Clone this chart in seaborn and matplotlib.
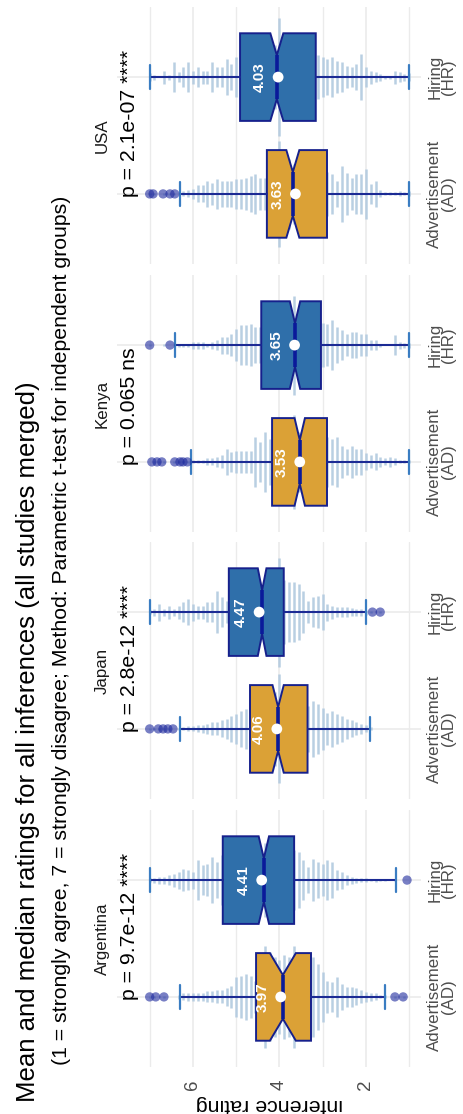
import numpy as np
import pandas as pd
import seaborn as sns
import matplotlib.pyplot as plt

# ---- data ----
countries = ["Argentina", "Japan", "Kenya", "USA"]
groups = ["Advertisement\n(AD)", "Hiring\n(HR)"]
p_labels = {"Argentina": "p = 9.7e-12 ****", "Japan": "p = 2.8e-12 ****",
            "Kenya": "p = 0.065 ns", "USA": "p = 2.1e-07 ****"}

# box statistics, [AD, HR]
q1 = {"Argentina": [3.27, 3.66], "Japan": [3.35, 3.90], "Kenya": [2.90, 3.04], "USA": [2.90, 3.16]}
med = {"Argentina": [3.92, 4.36], "Japan": [4.03, 4.40], "Kenya": [3.53, 3.64], "USA": [3.69, 4.06]}
q3 = {"Argentina": [4.54, 5.31], "Japan": [4.68, 5.17], "Kenya": [4.17, 4.42], "USA": [4.29, 4.91]}
whislo = {"Argentina": [1.56, 1.31], "Japan": [1.90, 2.00], "Kenya": [1.00, 1.00], "USA": [1.00, 1.00]}
whishi = {"Argentina": [6.30, 7.00], "Japan": [6.30, 7.00], "Kenya": [6.04, 6.42], "USA": [6.30, 7.00]}
cilo = {"Argentina": [3.62, 4.24], "Japan": [3.90, 4.30], "Kenya": [3.41, 3.52], "USA": [3.54, 3.91]}
cihi = {"Argentina": [4.22, 4.48], "Japan": [4.16, 4.50], "Kenya": [3.65, 3.76], "USA": [3.84, 4.21]}
means = {"Argentina": [3.97, 4.41], "Japan": [4.06, 4.47], "Kenya": [3.53, 3.65], "USA": [3.63, 4.03]}
fliers = {
    "Argentina": [[7.0, 6.86, 6.67, 1.33, 1.14], [1.05]],
    "Japan": [[7.0, 6.8, 6.69, 6.58, 6.46], [1.85, 1.67]],
    "Kenya": [[6.95, 6.83, 6.72, 6.42, 6.30, 6.23, 6.13], [7.0, 6.53]],
    "USA": [[7.0, 6.92, 6.69, 6.53, 6.42], []],
}

# dot strips: rating bins 1..7 in ninths, stack size per bin
levels = np.round(np.linspace(1, 7, 55), 3)
dot_counts = {
    "Argentina": [
        [0, 2, 0, 2, 0, 3, 3, 7, 8, 10, 13, 17, 20, 20, 27, 40, 30, 33, 50, 67,
         80, 75, 80, 85, 103, 80, 85, 75, 80, 90, 103, 80, 33, 43, 47, 43, 40, 23, 19, 13,
         13, 11, 11, 8, 8, 8, 8, 7, 4, 0, 0, 2, 0, 2, 2],
        [0, 0, 0, 2, 0, 2, 2, 3, 2, 4, 4, 5, 7, 10, 17, 20, 37, 40, 33, 37,
         43, 27, 40, 57, 60, 55, 70, 50, 65, 60, 75, 55, 70, 60, 65, 50, 60, 55, 45, 50,
         37, 47, 33, 30, 40, 17, 20, 23, 17, 13, 10, 7, 7, 5, 4],
    ],
    "Japan": [
        [0, 0, 0, 0, 0, 0, 0, 0, 3, 7, 10, 13, 17, 20, 27, 30, 37, 33, 43, 50,
         57, 47, 60, 70, 65, 75, 80, 110, 75, 70, 80, 65, 60, 45, 40, 37, 30, 27, 20, 17,
         13, 13, 10, 8, 7, 5, 5, 3, 2, 0, 2, 2, 2, 2, 2],
        [0, 0, 0, 0, 0, 0, 2, 0, 2, 5, 7, 7, 8, 10, 10, 10, 13, 17, 37, 33,
         30, 23, 43, 57, 60, 60, 65, 110, 60, 65, 70, 60, 65, 60, 70, 60, 65, 50, 23, 30,
         43, 20, 20, 13, 13, 17, 27, 20, 13, 7, 13, 7, 17, 7, 4],
    ],
    "Kenya": [
        [3, 3, 3, 7, 10, 7, 10, 17, 13, 17, 27, 27, 33, 27, 33, 50, 47, 50, 60, 65,
         60, 70, 65, 60, 95, 60, 65, 70, 60, 47, 60, 40, 50, 23, 23, 23, 23, 20, 27, 13,
         10, 7, 7, 3, 3, 3, 2, 2, 2, 2, 0, 2, 2, 2, 0],
        [5, 5, 7, 20, 0, 0, 3, 10, 10, 23, 23, 27, 27, 23, 30, 37, 50, 43, 45, 60,
         60, 65, 60, 70, 100, 65, 60, 70, 60, 65, 60, 37, 37, 43, 40, 40, 33, 23, 17, 17,
         10, 7, 3, 7, 7, 7, 3, 3, 3, 0, 0, 2, 0, 0, 2],
    ],
    "USA": [
        [5, 3, 5, 3, 3, 3, 7, 27, 20, 50, 40, 40, 33, 43, 57, 27, 40, 45, 60, 65,
         60, 70, 60, 65, 60, 70, 65, 107, 60, 65, 33, 33, 40, 37, 33, 30, 30, 27, 27, 27,
         30, 23, 27, 17, 17, 10, 7, 5, 0, 2, 2, 2, 0, 2, 2],
        [8, 7, 10, 13, 3, 3, 7, 10, 13, 20, 47, 27, 20, 23, 30, 33, 40, 37, 40, 45,
         60, 65, 60, 70, 60, 65, 60, 120, 65, 60, 70, 60, 65, 60, 65, 60, 40, 27, 37, 20,
         20, 30, 13, 13, 20, 13, 30, 20, 10, 30, 5, 13, 0, 5, 8],
    ],
}

title = "Mean and median ratings for all inferences (all studies merged)"
subtitle = "(1 = strongly agree, 7 = strongly disagree; Method: Parametric t-test for independent groups)"

# ---- style ----
sns.set_theme(style="whitegrid")
plt.rcParams['font.family'] = ['Liberation Sans', 'DejaVu Sans']

box_fill = ["#DBA136", "#2F6FAA"]
edge_col = "#16208C"
whisker_col = "#1B2A94"
cap_col = "#3A7DC2"
median_col = "#0A1A9A"
dot_col = "#B2CADF"
flier_col = "#1E2A9E"
grid_col = "#EBEBEB"
count_scale = 1 / 118

W, H = 464, 1114
fig = plt.figure(figsize=(W / 100, H / 100), dpi=100)
fig.patch.set_facecolor("white")

panel_top = {"USA": 7, "Kenya": 275, "Japan": 542, "Argentina": 810}
panel_h = 257
px_left, px_right = 117, 421

for country in countries:
    top = panel_top[country]
    ax = fig.add_axes([px_left / W, 1 - (top + panel_h) / H, (px_right - px_left) / W, panel_h / H])
    ax.set_facecolor("white")

    # dot strips
    for j in range(2):
        c = np.array(dot_counts[country][j], dtype=float)
        mask = c > 0
        half = c[mask] * count_scale / 2
        ax.vlines(levels[mask], j - half, j + half, colors=dot_col, linewidth=1.8,
                  alpha=0.9, zorder=1)

    stats = []
    for j in range(2):
        stats.append(dict(med=med[country][j], q1=q1[country][j], q3=q3[country][j],
                          whislo=whislo[country][j], whishi=whishi[country][j],
                          cilo=cilo[country][j], cihi=cihi[country][j], fliers=[]))
    bp = ax.bxp(stats, positions=[0, 1], widths=0.75, orientation='horizontal',
                shownotches=True, patch_artist=True, showfliers=False, capwidths=0.2,
                manage_ticks=False, zorder=2,
                boxprops=dict(edgecolor=edge_col, linewidth=1.4),
                whiskerprops=dict(color=whisker_col, linewidth=1.5),
                capprops=dict(color=cap_col, linewidth=1.6),
                medianprops=dict(color=median_col, linewidth=2.6, solid_capstyle='butt'))
    for patch, fc in zip(bp['boxes'], box_fill):
        patch.set_facecolor(fc)

    # outliers
    fl_vals, fl_pos = [], []
    for j in range(2):
        fl_vals += fliers[country][j]
        fl_pos += [j] * len(fliers[country][j])
    fl = pd.DataFrame({"value": fl_vals, "pos": fl_pos})
    sns.scatterplot(data=fl, x="value", y="pos", ax=ax, color=flier_col, alpha=0.6,
                    s=45, edgecolor="none", zorder=3, legend=False)

    # means
    mdf = pd.DataFrame({"mean": means[country], "pos": [0, 1]})
    sns.scatterplot(data=mdf, x="mean", y="pos", ax=ax, color="white", s=60,
                    edgecolor="none", zorder=4, legend=False)
    for j, m in enumerate(means[country]):
        ax.text(m + 0.42, j, f"{m:.2f}", rotation=90, ha="center", va="center",
                color="white", fontsize=11, fontweight="bold", zorder=5)

    ax.text(7.46, -0.03, p_labels[country], rotation=90, ha="center", va="bottom",
            fontsize=15.3, color="black", zorder=5)
    ax.text(-0.049, 0.5, country, transform=ax.transAxes, rotation=90, ha="center",
            va="center", fontsize=12.2, color="#1A1A1A")

    ax.set_xlabel("")
    ax.set_ylabel("")
    ax.set_xlim(7.755, 0.727)
    ax.set_ylim(-0.6, 1.6)
    ax.set_xticks([2, 4, 6])
    ax.set_xticks([1, 3, 5, 7], minor=True)
    ax.set_yticks([0, 1])
    ax.set_yticklabels(groups)
    ax.grid(False)
    ax.grid(which="major", axis="both", color=grid_col, linewidth=1.2)
    ax.grid(which="minor", axis="x", color=grid_col, linewidth=1.0)
    ax.set_axisbelow(True)
    for s in ax.spines.values():
        s.set_visible(False)

    ax.tick_params(axis="y", which="both", left=False, right=False, labelleft=False,
                   labelright=True, length=0, pad=4.5, labelsize=12.2, labelcolor="#4D4D4D")
    for lbl in ax.get_yticklabels():
        lbl.set_rotation(90)
        lbl.set_va("center")
        lbl.set_ha("left")
        lbl.set_multialignment("center")
        lbl.set_linespacing(0.9)
    if country == "Argentina":
        ax.tick_params(axis="x", which="major", length=0, pad=9, labelsize=13.5,
                       labelcolor="#4D4D4D", labelrotation=90)
    else:
        ax.tick_params(axis="x", which="major", length=0, labelbottom=False)
    ax.tick_params(axis="x", which="minor", length=0)

fig.text(269 / W, 1 - 1104.5 / H, "inference rating", rotation=180, ha="center",
         va="center", fontsize=15.4, color="black")
fig.text(28 / W, 1 - 1102 / H, title, rotation=90, ha="center", va="bottom",
         fontsize=18.5, color="black")
fig.text(62 / W, 1 - 1065 / H, subtitle, rotation=90, ha="center", va="bottom",
         fontsize=15.3, color="black")

fig.savefig("out.png", dpi=100)
